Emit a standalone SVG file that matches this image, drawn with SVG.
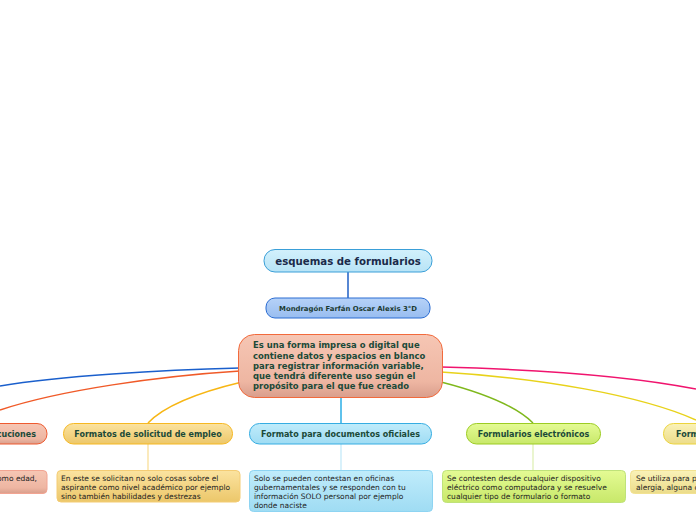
<svg xmlns="http://www.w3.org/2000/svg" width="696" height="520" viewBox="0 0 696 520">
<defs>
<linearGradient id="gSal" x1="0" y1="0" x2="0" y2="1"><stop offset="0" stop-color="#f6c6b4"/><stop offset="0.75" stop-color="#eeb6a2"/><stop offset="1" stop-color="#d99e8c"/></linearGradient>
<linearGradient id="gOra" x1="0" y1="0" x2="0" y2="1"><stop offset="0" stop-color="#fbe3a0"/><stop offset="1" stop-color="#ecc76a"/></linearGradient>
<linearGradient id="gBlu" x1="0" y1="0" x2="0" y2="1"><stop offset="0" stop-color="#c0ecfb"/><stop offset="1" stop-color="#9fdcf3"/></linearGradient>
<linearGradient id="gGrn" x1="0" y1="0" x2="0" y2="1"><stop offset="0" stop-color="#e4fb94"/><stop offset="1" stop-color="#c8e86a"/></linearGradient>
<linearGradient id="gYel" x1="0" y1="0" x2="0" y2="1"><stop offset="0" stop-color="#faf2b8"/><stop offset="1" stop-color="#ecdc8a"/></linearGradient>
<linearGradient id="gTitle" x1="0" y1="0" x2="0" y2="1"><stop offset="0" stop-color="#d2f0fc"/><stop offset="1" stop-color="#b8e4f6"/></linearGradient>
<linearGradient id="gSub" x1="0" y1="0" x2="0" y2="1"><stop offset="0" stop-color="#b6d2f8"/><stop offset="1" stop-color="#98bdf0"/></linearGradient>
</defs>
<style>
.t{font-family:"DejaVu Sans",Verdana,sans-serif;font-weight:bold;fill:#1b4a38}
.c{font-family:"DejaVu Sans",Verdana,sans-serif;fill:#222;font-size:7.5px}
.br{fill:none;stroke-width:1.5}
.tl{fill:none;stroke-width:1.2}
</style>
<g id="connectors">
<line x1="348" y1="272" x2="348" y2="298" stroke="#1f5fc4" stroke-width="1.5"/>
<line x1="341" y1="397" x2="341" y2="423" stroke="#2aaee6" stroke-width="1.5"/>
<path class="br" stroke="#1a5fcc" d="M240,368 C160,370 60,376 0,386"/>
<path class="br" stroke="#f05a28" d="M240,371 C160,376 60,390 0,410"/>
<path class="br" stroke="#f7b614" d="M242,382 C200,392 165,405 148,423"/>
<path class="br" stroke="#7fb81c" d="M441,382 C480,392 515,405 533,423"/>
<path class="br" stroke="#e8d21a" d="M441,372 C540,378 640,395 696,420"/>
<path class="br" stroke="#f0146e" d="M441,367 C560,370 640,378 696,389"/>
<line class="tl" x1="148" y1="444" x2="148" y2="470" stroke="#f8dc90"/>
<line class="tl" x1="341" y1="444" x2="341" y2="470" stroke="#bfe8f8"/>
<line class="tl" x1="533" y1="444" x2="533" y2="470" stroke="#dcefb0"/>
</g>
<g id="title">
<rect x="264" y="249.5" width="168" height="22.5" rx="11" fill="url(#gTitle)" stroke="#3a9fd8" stroke-width="1"/>
<text class="t" x="348" y="265" text-anchor="middle" font-size="10.2" style="fill:#1a2a4a">esquemas de formularios</text>
</g>
<g id="author">
<rect x="266" y="298" width="164" height="20" rx="9" fill="url(#gSub)" stroke="#2b6cd2" stroke-width="1"/>
<text class="t" x="348" y="311" text-anchor="middle" font-size="6.9" style="fill:#1b3a30">Mondragón Farfán Oscar Alexis 3°D</text>
</g>
<g id="central">
<rect x="238.5" y="334.5" width="204" height="63" rx="16" fill="url(#gSal)" stroke="#f26a3c" stroke-width="1"/>
<text class="t" font-size="8.45" x="253">
<tspan x="253" y="348">Es una forma impresa o digital que</tspan>
<tspan x="253" y="358.5">contiene datos y espacios en blanco</tspan>
<tspan x="253" y="368.5">para registrar información variable,</tspan>
<tspan x="253" y="378.5">que tendrá diferente uso según el</tspan>
<tspan x="253" y="388.5">propósito para el que fue creado</tspan>
</text>
</g>
<g id="n-instituciones">
<rect x="-40" y="423.5" width="87" height="20.5" rx="10" fill="url(#gSal)" stroke="#ee5a30" stroke-width="1"/>
<text class="t" x="36" y="437" text-anchor="end" font-size="8">cuciones</text>
</g>
<g id="n-instituciones-desc">
<rect x="-40" y="470.5" width="87" height="23" rx="4" fill="url(#gSal)" stroke="#f2a492" stroke-width="1"/>
<text class="c" x="37" y="481" text-anchor="end">omo edad,</text>
</g>
<g id="n-empleo">
<rect x="63.5" y="423.5" width="169" height="20.5" rx="10" fill="url(#gOra)" stroke="#f6b822" stroke-width="1"/>
<text class="t" x="148" y="437" text-anchor="middle" font-size="8">Formatos de solicitud de empleo</text>
</g>
<g id="n-empleo-desc">
<rect x="57" y="470.5" width="183" height="31.5" rx="4" fill="url(#gOra)" stroke="#f4cc74" stroke-width="1"/>
<text class="c"><tspan x="61" y="481">En este se solicitan no solo cosas sobre el</tspan><tspan x="61" y="490">aspirante como nivel académico por ejemplo</tspan><tspan x="61" y="499">sino también habilidades y destrezas</tspan></text>
</g>
<g id="n-oficiales">
<rect x="249.5" y="423.5" width="182" height="20.5" rx="10" fill="url(#gBlu)" stroke="#36ade2" stroke-width="1"/>
<text class="t" x="340.5" y="437" text-anchor="middle" font-size="8">Formato para documentos oficiales</text>
</g>
<g id="n-oficiales-desc">
<rect x="249.5" y="470.5" width="183" height="41" rx="4" fill="url(#gBlu)" stroke="#8ed4f2" stroke-width="1"/>
<text class="c"><tspan x="254" y="481">Solo se pueden contestan en oficinas</tspan><tspan x="254" y="490">gubernamentales y se responden con tu</tspan><tspan x="254" y="498.5">información SOLO personal por ejemplo</tspan><tspan x="254" y="507.5">donde naciste</tspan></text>
</g>
<g id="n-electronicos">
<rect x="466.5" y="423.5" width="134" height="20.5" rx="10" fill="url(#gGrn)" stroke="#9ccc22" stroke-width="1"/>
<text class="t" x="533.5" y="437" text-anchor="middle" font-size="8">Formularios electrónicos</text>
</g>
<g id="n-electronicos-desc">
<rect x="442.5" y="470.5" width="183" height="32" rx="4" fill="url(#gGrn)" stroke="#bfe27a" stroke-width="1"/>
<text class="c"><tspan x="447" y="481">Se contesten desde cualquier dispositivo</tspan><tspan x="447" y="490">eléctrico como computadora y se resuelve</tspan><tspan x="447" y="499">cualquier tipo de formulario o formato</tspan></text>
</g>
<g id="n-form">
<rect x="663.5" y="423.5" width="80" height="20.5" rx="10" fill="url(#gYel)" stroke="#ecd43c" stroke-width="1"/>
<text class="t" x="676" y="437" font-size="8">Form</text>
</g>
<g id="n-form-desc">
<rect x="630.5" y="470.5" width="100" height="23" rx="4" fill="url(#gYel)" stroke="#f2e292" stroke-width="1"/>
<text class="c"><tspan x="636" y="481">Se utiliza para p</tspan><tspan x="636" y="490">alergia, alguna c</tspan></text>
</g>
</svg>
